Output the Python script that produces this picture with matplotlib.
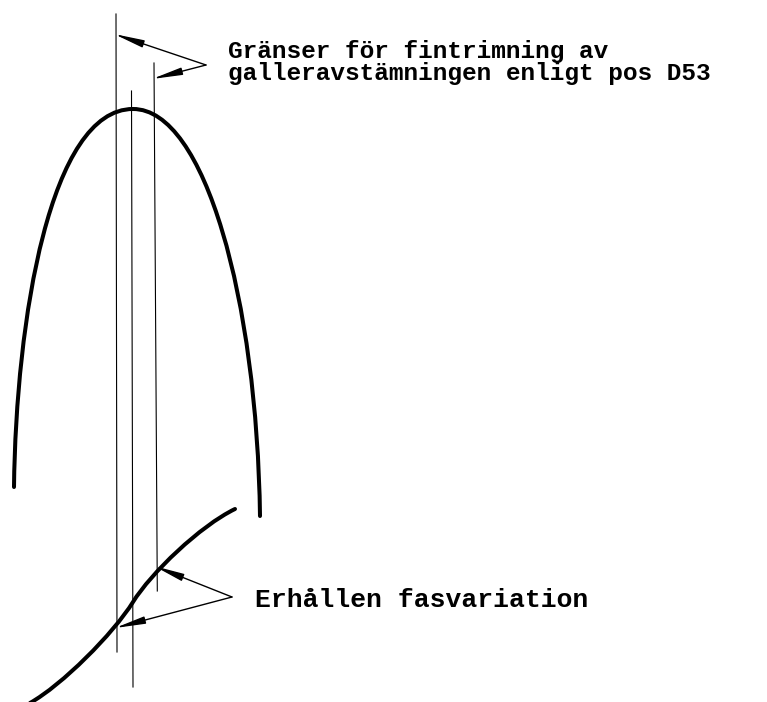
import matplotlib.pyplot as plt
from matplotlib.path import Path
from matplotlib.patches import PathPatch

# Resonance curve (two cubic Bezier halves meeting at the top)
peak_curve = [(14, 487), (16, 320), (50, 109), (133, 109),
              (205, 109), (257, 300), (260, 516)]
# Phase curve (two cubic Bezier pieces)
phase_curve = [(30, 703), (62, 685), (113, 634), (133, 602),
               (151, 573), (200, 526), (235, 509)]

# Vertical reference lines: (x_top, y_top, x_bottom, y_bottom)
limit_lines = [(116, 14, 117, 652), (154, 63, 157.3, 591)]
center_line = (131.5, 91, 133, 687)

# Leader arrows: tail point and the tips it points to
upper_tail = (206, 65)
upper_tips = [(114, 34), (152, 79)]
lower_tail = (232, 597)
lower_tips = [(154, 566), (115, 628)]

upper_label = ["Gränser för fintrimning av",
               "galleravstämningen enligt pos D53"]
lower_label = "Erhållen fasvariation"

fig = plt.figure(figsize=(7.67, 7.02), dpi=100)
ax = fig.add_axes([0, 0, 1, 1])
ax.set_xlim(0, 767)
ax.set_ylim(702, 0)
ax.axis('off')

codes = [Path.MOVETO] + [Path.CURVE4] * 6
for pts in (peak_curve, phase_curve):
    ax.add_patch(PathPatch(Path(pts, codes), fill=False, lw=2.9,
                           edgecolor='black', capstyle='round'))

for x0, y0, x1, y1 in limit_lines + [center_line]:
    ax.plot([x0, x1], [y0, y1], color='black', lw=0.8)

style = '-|>,head_length=1.8,head_width=0.22'
for tail, tips in ((upper_tail, upper_tips), (lower_tail, lower_tips)):
    for tip in tips:
        ax.annotate('', xy=tip, xytext=tail,
                    arrowprops=dict(arrowstyle=style, color='black', lw=1.0,
                                    shrinkA=0, shrinkB=0))

font = dict(family='Liberation Mono', weight='bold', color='black')
ax.text(228, 58, upper_label[0], fontsize=17.6, va='baseline', ha='left', **font)
ax.text(228, 80, upper_label[1], fontsize=17.6, va='baseline', ha='left', **font)
ax.text(255, 607, lower_label, fontsize=19, va='baseline', ha='left', **font)

fig.savefig('out.png', dpi=100)
